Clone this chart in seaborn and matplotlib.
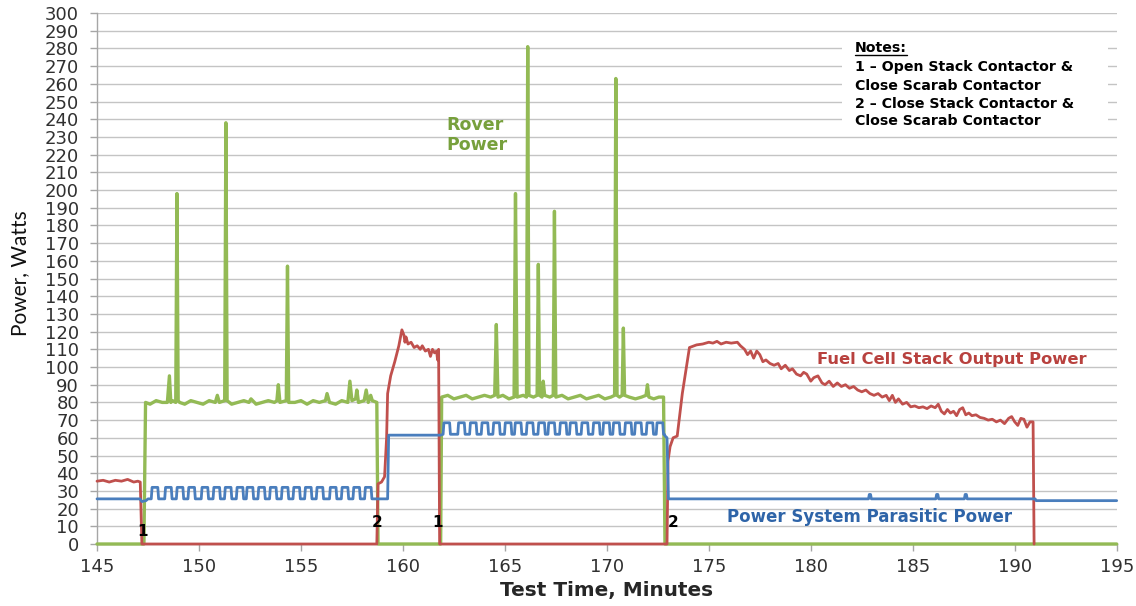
import pandas as pd
import matplotlib.pyplot as plt
from matplotlib.patches import Rectangle
import seaborn as sns

# 数据：从图上读出的 (时间, 功率) 点
stack_pts = [
    (145.0, 35.5), (145.3, 36), (145.6, 35), (145.9, 36), (146.2, 35.5), (146.5, 36.5),
    (146.8, 35), (147.0, 35.5), (147.12, 35), (147.2, 0), (158.72, 0), (158.78, 34),
    (158.95, 35), (159.1, 38), (159.2, 60), (159.25, 85), (159.4, 95), (159.6, 103),
    (159.8, 112), (159.95, 121), (160.05, 118), (160.1, 114), (160.15, 117), (160.25, 113),
    (160.4, 114), (160.55, 111), (160.7, 112), (160.85, 110), (160.95, 112), (161.1, 109),
    (161.25, 110), (161.35, 106), (161.45, 110), (161.55, 108), (161.65, 109), (161.7, 104),
    (161.75, 110), (161.8, 0), (172.95, 0), (173.0, 47), (173.1, 55), (173.25, 60),
    (173.45, 61), (173.7, 85), (174.05, 111), (174.4, 112.5), (174.7, 113), (175.0, 114),
    (175.2, 113.5), (175.4, 114.5), (175.6, 113), (175.85, 114), (176.1, 113.5), (176.4, 114),
    (176.55, 112), (176.75, 110), (176.9, 107), (177.05, 109), (177.2, 105), (177.35, 109),
    (177.5, 107), (177.65, 103), (177.8, 104), (178.0, 102), (178.2, 101), (178.4, 102),
    (178.55, 99), (178.75, 101), (178.95, 98), (179.1, 99), (179.3, 96), (179.5, 95),
    (179.65, 97), (179.8, 96), (180.0, 92), (180.15, 94), (180.35, 95), (180.55, 91),
    (180.7, 90), (180.9, 92), (181.1, 89), (181.3, 91), (181.5, 89), (181.7, 90),
    (181.9, 88), (182.1, 89), (182.3, 87), (182.5, 86), (182.7, 87), (182.9, 85),
    (183.1, 84), (183.3, 85), (183.5, 83), (183.7, 84), (183.85, 81), (184.0, 84),
    (184.15, 80), (184.3, 82), (184.5, 79), (184.7, 80), (184.9, 77.5), (185.1, 78),
    (185.3, 77), (185.5, 77.5), (185.7, 76.5), (185.9, 78), (186.1, 77), (186.25, 79),
    (186.4, 75), (186.55, 73.5), (186.7, 76), (186.85, 74), (187.0, 75), (187.15, 72.5),
    (187.3, 76), (187.45, 77), (187.6, 73), (187.75, 74), (187.9, 72.5), (188.1, 73),
    (188.3, 71.5), (188.5, 71), (188.7, 70), (188.9, 70.5), (189.1, 69), (189.3, 70),
    (189.5, 68), (189.7, 71), (189.85, 72), (190.0, 69), (190.15, 67), (190.3, 71),
    (190.45, 70.5), (190.6, 66), (190.75, 69), (190.9, 69), (190.95, 0),
]

rover_pts = [
    (145.0, 0), (147.3, 0), (147.38, 80), (147.6, 79), (147.9, 81), (148.2, 80),
    (148.45, 80), (148.55, 95), (148.62, 80), (148.7, 81), (148.86, 80), (148.92, 198),
    (148.98, 81), (149.05, 80), (149.3, 79), (149.6, 81), (149.9, 80), (150.2, 79),
    (150.5, 81), (150.8, 80), (150.9, 84), (151.0, 80), (151.26, 81), (151.32, 238),
    (151.38, 81), (151.6, 79), (151.9, 80), (152.2, 81), (152.45, 80), (152.55, 82),
    (152.8, 79), (153.1, 80), (153.4, 81), (153.7, 80), (153.82, 81), (153.89, 90),
    (153.97, 80), (154.28, 81), (154.34, 157), (154.4, 80), (154.7, 80), (155.0, 81),
    (155.3, 79), (155.6, 81), (155.9, 80), (156.2, 81), (156.28, 85), (156.4, 80),
    (156.7, 79), (157.0, 81), (157.3, 80), (157.4, 92), (157.5, 81), (157.68, 82),
    (157.74, 87), (157.82, 80), (158.1, 81), (158.2, 87), (158.3, 80), (158.42, 84),
    (158.5, 81), (158.72, 80), (158.78, 0), (161.85, 0), (161.9, 83), (162.2, 84),
    (162.5, 82), (162.8, 83), (163.1, 84), (163.4, 82), (163.7, 83), (164.0, 84),
    (164.3, 83), (164.5, 84), (164.58, 124), (164.66, 83), (164.9, 84), (165.2, 82),
    (165.45, 83), (165.52, 198), (165.6, 83), (165.9, 84), (166.06, 83), (166.12, 281),
    (166.18, 84), (166.4, 83), (166.58, 84), (166.64, 158), (166.7, 84), (166.82, 83),
    (166.88, 92), (166.95, 84), (167.2, 83), (167.37, 84), (167.43, 188), (167.5, 83),
    (167.8, 84), (168.1, 82), (168.4, 83), (168.7, 84), (169.0, 82), (169.3, 83),
    (169.6, 84), (169.9, 82), (170.2, 83), (170.38, 84), (170.44, 263), (170.5, 84),
    (170.62, 83), (170.75, 84), (170.81, 122), (170.87, 84), (171.1, 83), (171.4, 82),
    (171.7, 83), (171.92, 84), (171.99, 90), (172.06, 83), (172.3, 82), (172.55, 83),
    (172.78, 83), (172.85, 0), (195.0, 0),
]

# 寄生功率：基线 + 脉冲中心位置
para_pre = [(145.0, 25.5), (147.1, 25.5), (147.2, 24), (147.4, 24.5), (147.5, 25.5)]
para_pulses_1 = [147.84, 148.50, 149.07, 149.64, 150.29, 150.87, 151.43, 152.01, 152.50,
                 153.07, 153.64, 154.22, 154.79, 155.36, 155.93, 156.58, 157.16, 157.73, 158.30]
para_mid = [(159.25, 25.5), (159.3, 61.5), (161.85, 61.5)]
para_pulses_2 = [162.15, 162.87, 163.45, 164.02, 164.59, 165.16, 165.65, 166.23, 166.80, 167.29,
                 167.86, 168.35, 168.92, 169.49, 169.98, 170.47, 171.05, 171.54, 172.11, 172.60]
para_drop = [(172.82, 62), (172.86, 61), (172.95, 60), (173.02, 25.5)]
para_blips = [182.9, 186.2, 187.6]
para_end = [(191.0, 25.5), (191.05, 24.5), (195.0, 24.5)]

notes = ['Notes:', '1 – Open Stack Contactor &', 'Close Scarab Contactor',
         '2 – Close Stack Contactor &', 'Close Scarab Contactor']
events = [('1', 147.25, 7), ('2', 158.75, 12), ('1', 161.7, 12), ('2', 173.25, 12)]


def pulses(centers, base, high, half=0.14, ramp=0.04):
    pts = []
    for c in centers:
        pts += [(c - half - ramp, base), (c - half, high), (c + half, high), (c + half + ramp, base)]
    return pts


para_pts = (para_pre + pulses(para_pulses_1, 25.5, 32) + para_mid
            + pulses(para_pulses_2, 62, 68.5) + para_drop
            + pulses(para_blips, 25.5, 28, half=0.03, ramp=0.04) + para_end)

sns.set_theme(style='whitegrid')
plt.rcParams['font.family'] = ['DejaVu Sans']

fig, ax = plt.subplots(figsize=(11.36, 6.06), dpi=100)
fig.subplots_adjust(left=0.0854, right=0.983, top=0.9785, bottom=0.1023)

series = [(rover_pts, '#93BA55', 2.4), (stack_pts, '#C0504D', 2.0), (para_pts, '#4A7EBD', 2.0)]
for pts, color, lw in series:
    df = pd.DataFrame(pts, columns=['t', 'w'])
    sns.lineplot(data=df, x='t', y='w', ax=ax, color=color, linewidth=lw,
                 estimator=None, sort=False, clip_on=False, zorder=3)

ax.set_xlim(145, 195)
ax.set_ylim(0, 300)
ax.set_xticks(range(145, 196, 5))
ax.set_yticks(range(0, 301, 10))
ax.grid(axis='y', color='#C4C4C4', linewidth=1.0)
ax.grid(axis='x', visible=False)
ax.set_axisbelow(True)
for s in ['top', 'right']:
    ax.spines[s].set_visible(False)
for s in ['left', 'bottom']:
    ax.spines[s].set_color('#A6A6A6')
    ax.spines[s].set_linewidth(1.0)
ax.tick_params(axis='y', length=5, width=1.0, color='#A6A6A6', pad=8, labelsize=13, labelcolor='#303030', left=True)
ax.tick_params(axis='x', length=5, width=1.0, color='#A6A6A6', pad=5, labelsize=13, labelcolor='#303030', bottom=True)

ax.set_xlabel('Test Time, Minutes', fontweight='bold', fontsize=14.4, labelpad=4)
ax.set_ylabel('Power, Watts', family='Lato', fontsize=15, color='#111111')
ax.yaxis.set_label_coords(-0.066, 0.51)

# 曲线标注
ax.text(162.15, 231, 'Rover\nPower', fontweight='bold', fontsize=12.5,
        color='#77A03C', ha='left', va='center', linespacing=1.15)
ax.text(180.3, 104, 'Fuel Cell Stack Output Power', fontweight='bold',
        fontsize=11.8, color='#B8413E', ha='left', va='center')
ax.text(175.9, 15.5, 'Power System Parasitic Power', fontweight='bold',
        fontsize=12, color='#2E64A8', ha='left', va='center')
for label, x, y in events:
    ax.text(x, y, label, fontweight='bold', fontsize=11, color='black', ha='center', va='center', zorder=5)

# 注释框
ax.add_patch(Rectangle((181.55, 232), 13.0, 56, facecolor='white', edgecolor='none', zorder=1))
note_y = [280.2, 269.5, 258.8, 248.6, 239.0]
texts = []
for line, y in zip(notes, note_y):
    texts.append(ax.text(182.15, y, line, fontweight='bold', fontsize=10.2,
                         color='black', ha='left', va='center', zorder=4))
fig.canvas.draw()
bb = texts[0].get_window_extent().transformed(ax.transData.inverted())
ax.plot([bb.x0, bb.x1], [bb.y0 + 0.3, bb.y0 + 0.3], color='black', linewidth=1.0, zorder=4)

plt.savefig('out.png', dpi=100)
